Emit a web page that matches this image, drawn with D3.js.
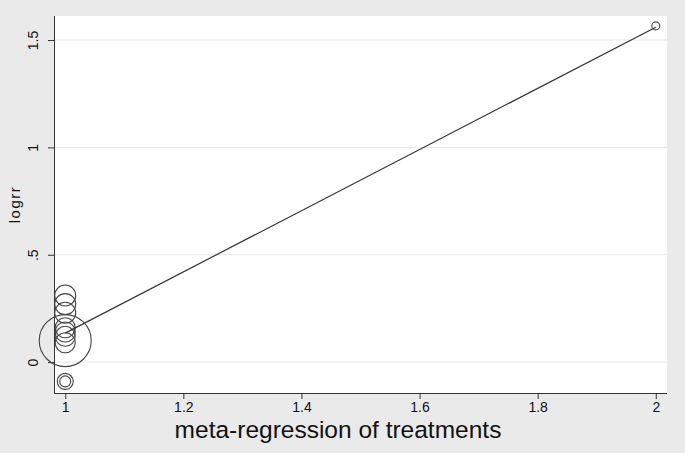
<!DOCTYPE html>
<html>
<head>
<meta charset="utf-8">
<script src="https://cdn.jsdelivr.net/npm/d3@7"></script>
<style>
  body { margin: 0; background: #fff; }
  text { font-family: "Liberation Sans", Arial, sans-serif; fill: #111; }
</style>
</head>
<body>
<div id="chart"></div>
<script>
var plot = {
  width: 685,
  height: 455,
  top: 16,
  right: 18,
  bottom: 62,
  left: 54,
}

// studies: treatment value, logrr, weight (bubble radius in px)
var treatX = [1, 1, 1, 1, 1, 1, 1, 1, 1, 1, 2];
var logrr = [0.31, 0.27, 0.23, 0.16, 0.14, 0.12, 0.09, 0.10, -0.09, -0.09, 1.566];
var radius = [10.5, 10.5, 10.5, 10, 10, 10, 10, 26, 8, 5.5, 4];

// fitted meta-regression line
var fitX = [1, 2];
var fitY = [0.135, 1.56];

var xTicks = [1, 1.2, 1.4, 1.6, 1.8, 2];
var xTickLabels = ["1", "1.2", "1.4", "1.6", "1.8", "2"];
var yTicks = [0, 0.5, 1, 1.5];
var yTickLabels = ["0", ".5", "1", "1.5"];

function draw() {
  let svg = d3.select("#chart")
    .append("svg")
    .attr("width", plot.width)
    .attr("height", plot.height);

  svg.append("rect")
    .attr("width", plot.width)
    .attr("height", plot.height - 2)
    .style("fill", "#eaeaea");

  let x = d3.scaleLinear()
    .domain([0.981, 2.019])
    .range([plot.left, plot.width - plot.right]);
  let y = d3.scaleLinear()
    .domain([-0.144, 1.612])
    .range([plot.height - plot.bottom, plot.top]);

  /* plot region */
  svg.append("rect")
    .attr("x", plot.left)
    .attr("y", plot.top)
    .attr("width", plot.width - plot.right - plot.left)
    .attr("height", plot.height - plot.bottom - plot.top)
    .style("fill", "white");

  /* grid */
  svg.append("g")
    .selectAll("line")
    .data(yTicks)
    .enter()
    .append("line")
    .attr("x1", plot.left)
    .attr("x2", plot.width - plot.right)
    .attr("y1", (d) => y(d))
    .attr("y2", (d) => y(d))
    .style("stroke", "#e6e6e6")
    .style("stroke-width", 1);

  /* y axis */
  let yAxis = svg.append("g")
    .attr("transform", `translate(${plot.left}, 0)`)
    .call(d3.axisLeft(y).tickValues(yTicks).tickSize(6).tickFormat((d, i) => yTickLabels[i]));
  yAxis.select(".domain").attr("d", `M0.5,${plot.top}V${plot.height - plot.bottom}`).style("stroke", "#333");
  yAxis.selectAll(".tick line").style("stroke", "#333");
  yAxis.selectAll(".tick text")
    .attr("x", null)
    .attr("dy", null)
    .attr("transform", "translate(-21, 0) rotate(-90)")
    .attr("text-anchor", "middle")
    .attr("dominant-baseline", "central")
    .style("font-size", "14px");

  /* x axis */
  let xAxis = svg.append("g")
    .attr("transform", `translate(0, ${plot.height - plot.bottom})`)
    .call(d3.axisBottom(x).tickValues(xTicks).tickSize(6).tickFormat((d, i) => xTickLabels[i]));
  xAxis.select(".domain").attr("d", `M${plot.left},0.5H${plot.width - plot.right}`).style("stroke", "#333");
  xAxis.selectAll(".tick line").style("stroke", "#333");
  xAxis.selectAll(".tick text")
    .attr("y", 9)
    .attr("dy", "0.71em")
    .style("font-size", "14px");

  /* axis titles */
  svg.append("text")
    .attr("x", 338)
    .attr("y", 438)
    .attr("text-anchor", "middle")
    .style("font-size", "24.5px")
    .text("meta-regression of treatments");
  svg.append("text")
    .attr("transform", `translate(14, ${(plot.top + plot.height - plot.bottom) / 2}) rotate(-90)`)
    .attr("text-anchor", "middle")
    .attr("dominant-baseline", "central")
    .style("font-size", "15px")
    .style("letter-spacing", "1.5px")
    .text("logrr");

  /* bubbles */
  let studies = treatX.map((d, i) => ({ x: d, y: logrr[i], r: radius[i] }));
  svg.append("g")
    .selectAll("circle")
    .data(studies)
    .enter()
    .append("circle")
    .attr("cx", (d) => x(d.x))
    .attr("cy", (d) => y(d.y))
    .attr("r", (d) => d.r)
    .style("fill", "none")
    .style("stroke", "#444")
    .style("stroke-width", 1.1);

  /* fitted line */
  svg.append("path")
    .datum(fitX.map((d, i) => [d, fitY[i]]))
    .attr("d", d3.line().x((d) => x(d[0])).y((d) => y(d[1])))
    .style("fill", "none")
    .style("stroke", "#333")
    .style("stroke-width", 1.2);
}

draw();
</script>
</body>
</html>
